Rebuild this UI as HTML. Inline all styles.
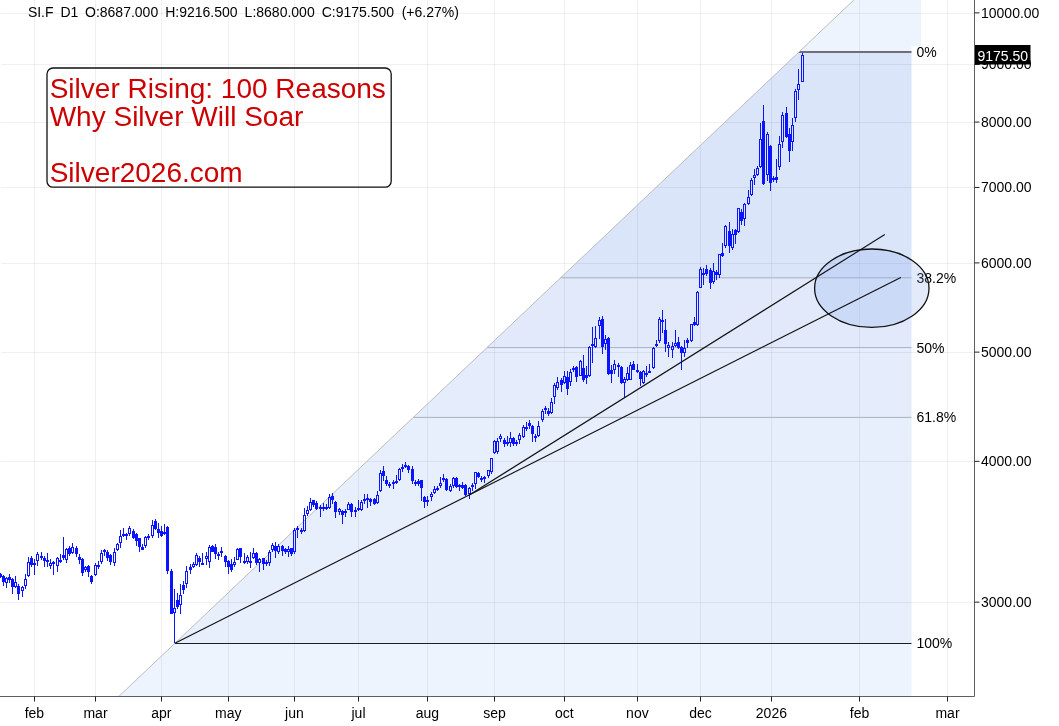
<!DOCTYPE html>
<html><head><meta charset="utf-8"><style>
html,body{margin:0;padding:0;background:#fff;overflow:hidden;}
svg{display:block;will-change:transform;}
.t{font-family:"Liberation Sans",sans-serif;font-size:14px;fill:#000;}
.r{font-family:"Liberation Sans",sans-serif;font-size:28px;fill:#cc0000;}
</style></head><body>
<svg width="1059" height="726" viewBox="0 0 1059 726">
<rect width="1059" height="726" fill="#fff"/>
<polygon points="853.84,0.00 921.00,0.00 921.00,46.00 911.50,46.00 911.50,51.90 799.06,51.90" fill="#eef4fe"/>
<polygon points="799.06,51.90 911.50,51.90 911.50,277.81 560.63,277.81" fill="#dae5f9"/>
<polygon points="560.63,277.81 911.50,277.81 911.50,347.60 486.98,347.60" fill="#e1e9fa"/>
<polygon points="486.98,347.60 911.50,347.60 911.50,417.39 413.33,417.39" fill="#e5ecfb"/>
<polygon points="413.33,417.39 911.50,417.39 911.50,643.30 174.90,643.30" fill="#e8effc"/>
<polygon points="174.90,643.30 911.50,643.30 911.50,696.00 119.28,696.00" fill="#eef4fe"/>
<path d="M34.5 0V696.5M95.5 0V696.5M161.5 0V696.5M228.5 0V696.5M294.5 0V696.5M358.5 0V696.5M427.5 0V696.5M494.5 0V696.5M564.5 0V696.5M637.5 0V696.5M700.5 0V696.5M771.5 0V696.5M859.5 0V696.5M947.5 0V696.5M1 13.5H974.5M1 64.5H974.5M1 122.5H974.5M1 187.5H974.5M1 263.5H974.5M1 352.5H974.5M1 461.5H974.5M1 602.5H974.5" stroke="#000" stroke-opacity="0.06" stroke-width="1" fill="none"/>
<line x1="560.63" y1="277.81" x2="911.5" y2="277.81" stroke="#a7b0bf" stroke-width="1"/>
<line x1="486.98" y1="347.60" x2="911.5" y2="347.60" stroke="#a7b0bf" stroke-width="1"/>
<line x1="413.33" y1="417.39" x2="911.5" y2="417.39" stroke="#a7b0bf" stroke-width="1"/>
<line x1="798.96" y1="52" x2="911.5" y2="52" stroke="#6d7077" stroke-width="2"/>
<line x1="174.9" y1="643.5" x2="911.5" y2="643.5" stroke="#1e1e24" stroke-width="1.2"/>
<line x1="118.75" y1="696.5" x2="853.84" y2="0" stroke="#bcbcbc" stroke-width="1"/>
<g shape-rendering="crispEdges"><path d="M0.5 573V574M0.5 577V578M3.5 575V576M3.5 582V586M6.5 577V578M6.5 583V588M9.5 574V577M9.5 580V583M12.5 578V579M12.5 587V594M15.5 576V582M15.5 587V588M18.5 584V586M18.5 594V600M22.5 586V587M22.5 591V597M25.5 574V579M25.5 586V589M28.5 557V562M28.5 576V577M31.5 556V558M31.5 565V567M34.5 559V563M34.5 565V575M37.5 552V554M37.5 561V566M41.5 552V556M41.5 558V560M44.5 556V558M44.5 561V567M47.5 553V560M47.5 562V567M50.5 559V563M50.5 566V569M53.5 561V562M53.5 564V575M57.5 557V558M57.5 566V572M60.5 554V560M60.5 562V563M63.5 537V555M63.5 558V560M66.5 548V549M66.5 560V563M69.5 546V548M69.5 554V556M72.5 543V547M72.5 553V554M76.5 546V548M76.5 554V557M79.5 554V557M79.5 560V564M82.5 558V559M82.5 573V576M85.5 566V567M85.5 570V572M88.5 565V566M88.5 572V577M91.5 575V576M91.5 582V584M95.5 563V565M95.5 575V576M98.5 561V565M98.5 567V569M101.5 550V553M101.5 562V564M104.5 549V550M104.5 552V556M107.5 550V552M107.5 558V561M110.5 554V555M110.5 562V565M114.5 548V552M114.5 563V566M117.5 543V544M117.5 550V551M120.5 530V536M120.5 543V548M123.5 528V534M123.5 536V537M126.5 533V534M126.5 536V540M129.5 526V528M129.5 534V536M133.5 529V531M133.5 538V539M136.5 533V534M136.5 541V546M139.5 547V552M142.5 544V547M145.5 536V537M145.5 546V548M148.5 534V536M148.5 538V540M152.5 520V525M152.5 536V538M155.5 519V521M155.5 529V530M158.5 523V529M158.5 533V538M161.5 526V531M161.5 536V537M164.5 524V532M164.5 534V535M167.5 526V527M167.5 571V574M171.5 569V571M174.5 589V608M174.5 613V643M177.5 593V600M177.5 607V609M180.5 584V595M180.5 605V614M183.5 581V585M183.5 590V594M186.5 566V571M186.5 584V588M190.5 564V567M190.5 570V574M193.5 562V564M193.5 567V568M196.5 553V555M196.5 565V566M199.5 556V558M199.5 562V567M202.5 553V563M206.5 552V556M206.5 559V565M209.5 545V547M209.5 562V568M212.5 545V546M215.5 544V547M215.5 554V559M218.5 552V554M218.5 556V560M221.5 547V551M221.5 553V557M225.5 555V556M225.5 562V567M228.5 560V561M228.5 567V574M231.5 559V564M231.5 570V572M234.5 557V562M234.5 565V567M237.5 548V549M240.5 557V563M244.5 553V561M244.5 563V564M247.5 555V557M247.5 562V564M250.5 552V561M250.5 563V568M253.5 548V553M253.5 558V559M256.5 552V553M256.5 563V565M259.5 558V559M259.5 563V572M263.5 564V570M266.5 560V562M266.5 564V566M269.5 550V552M269.5 563V566M272.5 543V545M272.5 550V552M275.5 542V546M275.5 551V558M278.5 544V546M278.5 552V554M282.5 545V546M282.5 551V556M285.5 548V549M285.5 552V554M288.5 546V549M288.5 552V557M291.5 554V556M294.5 528V530M294.5 552V554M297.5 526V528M297.5 530V538M301.5 528V530M301.5 532V534M304.5 508V515M304.5 531V532M307.5 506V510M307.5 514V516M310.5 498V502M310.5 510V511M313.5 505V507M316.5 501V503M316.5 509V510M320.5 505V507M320.5 509V517M323.5 503V507M323.5 509V511M326.5 504V507M326.5 509V510M329.5 494V497M329.5 508V509M332.5 493V496M332.5 500V504M335.5 501V502M335.5 512V518M339.5 508V509M339.5 512V515M342.5 510V511M342.5 515V524M345.5 509V511M345.5 513V517M348.5 502V504M351.5 503V504M351.5 512V517M355.5 507V510M355.5 512V517M358.5 500V508M358.5 510V511M361.5 500V502M361.5 510V511M364.5 494V499M364.5 501V504M367.5 494V498M367.5 500V508M370.5 498V499M370.5 502V506M374.5 498V499M374.5 504V505M377.5 491V495M377.5 503V504M380.5 470V473M380.5 491V492M383.5 466V471M383.5 476V481M386.5 476V480M386.5 484V486M389.5 482V484M389.5 486V488M393.5 480V482M393.5 484V489M396.5 475V481M396.5 483V484M399.5 468V469M399.5 480V481M402.5 464V467M402.5 469V472M405.5 462V465M405.5 467V468M408.5 465V466M408.5 470V473M412.5 466V469M412.5 481V484M415.5 480V482M415.5 484V486M418.5 479V481M418.5 484V486M421.5 488V501M424.5 496V497M424.5 502V508M427.5 496V500M427.5 502V506M431.5 492V494M431.5 497V501M434.5 486V489M434.5 493V494M437.5 486V488M437.5 490V491M440.5 477V483M440.5 486V488M443.5 474V478M443.5 480V482M446.5 478V479M446.5 490V491M450.5 484V486M450.5 491V492M453.5 477V478M453.5 486V488M456.5 477V478M456.5 487V488M459.5 484V485M459.5 487V491M462.5 482V485M462.5 488V489M465.5 484V485M465.5 495V496M469.5 487V488M469.5 494V499M472.5 483V485M472.5 487V491M475.5 484V489M478.5 472V473M478.5 477V478M481.5 476V478M481.5 480V482M484.5 476V477M484.5 479V483M488.5 476V478M491.5 472V474M494.5 440V441M494.5 453V454M497.5 438V441M497.5 452V454M500.5 434V436M500.5 439V442M504.5 438V440M504.5 444V447M507.5 436V442M507.5 444V446M510.5 432V438M510.5 443V447M513.5 437V438M513.5 444V446M516.5 440V442M516.5 444V446M519.5 433V435M519.5 440V444M523.5 425V427M523.5 437V438M526.5 422V427M526.5 429V431M529.5 420V423M529.5 426V429M532.5 425V426M532.5 434V442M535.5 434V436M535.5 438V442M538.5 421V426M538.5 436V437M542.5 409V411M542.5 420V422M545.5 406V408M545.5 410V414M548.5 408V411M548.5 414V416M551.5 398V402M551.5 413V414M554.5 383V385M554.5 397V404M557.5 377V382M557.5 388V390M561.5 378V380M561.5 385V392M564.5 371V376M564.5 383V384M567.5 371V377M567.5 389V395M570.5 369V372M570.5 382V386M573.5 366V368M573.5 370V372M576.5 366V367M576.5 377V382M580.5 360V361M583.5 355V368M583.5 380V382M586.5 366V375M586.5 378V384M589.5 346V347M589.5 376V377M592.5 327V344M592.5 346V363M595.5 326V338M595.5 347V348M599.5 317V320M599.5 326V339M602.5 316V319M602.5 347V354M605.5 335V339M605.5 344V350M608.5 337V338M608.5 374V375M611.5 365V370M611.5 374V383M614.5 360V364M614.5 370V374M618.5 363V365M618.5 367V377M621.5 366V367M621.5 383V384M624.5 377V379M624.5 383V398M627.5 367V373M627.5 380V381M630.5 362V365M633.5 361V364M637.5 364V370M637.5 372V373M640.5 371V372M640.5 379V386M643.5 370V371M643.5 383V384M646.5 366V373M646.5 375V377M649.5 364V371M653.5 347V348M653.5 368V369M656.5 340V344M656.5 346V347M659.5 317V319M659.5 341V343M662.5 310V320M662.5 322V333M665.5 319V330M665.5 344V352M668.5 342V345M668.5 348V357M672.5 342V346M672.5 350V358M675.5 330V343M675.5 346V347M678.5 337V342M678.5 348V349M681.5 346V347M681.5 353V370M684.5 340V348M684.5 353V357M687.5 338V340M687.5 343V348M691.5 341V342M694.5 317V322M694.5 325V326M697.5 291V292M697.5 325V326M700.5 267V269M703.5 268V273M703.5 275V285M706.5 265V269M706.5 274V276M710.5 268V270M710.5 283V289M713.5 263V271M713.5 282V284M716.5 270V272M716.5 275V280M719.5 275V278M722.5 243V253M722.5 256V257M725.5 225V226M725.5 246V248M729.5 222V231M729.5 246V253M732.5 229V234M732.5 248V250M735.5 229V230M735.5 235V244M738.5 232V233M741.5 209V212M741.5 221V225M744.5 203V204M744.5 219V226M748.5 190V197M748.5 204V205M751.5 178V180M751.5 195V196M754.5 169V175M754.5 178V185M757.5 166V168M757.5 175V176M760.5 123V139M760.5 167V168M763.5 105V121M763.5 184V185M767.5 132V134M767.5 175V181M770.5 145V146M770.5 183V191M773.5 176V178M773.5 180V182M776.5 159V177M776.5 180V183M779.5 136V144M779.5 167V170M782.5 112V115M782.5 142V148M786.5 107V113M786.5 137V138M789.5 128V134M789.5 151V162M792.5 118V125M792.5 142V151M795.5 89V91M795.5 118V122M798.5 69V84M798.5 90V100M802.5 53V55" stroke="#0a14ff" stroke-width="1" fill="none"/>
<path d="M-1 574h3v3h-3ZM2 576h3v6h-3ZM8 577h3v3h-3ZM11 579h3v8h-3ZM17 586h3v8h-3ZM30 558h3v7h-3ZM43 558h3v3h-3ZM46 560h3v2h-3ZM52 562h3v2h-3ZM62 555h3v3h-3ZM68 548h3v6h-3ZM75 548h3v6h-3ZM78 557h3v3h-3ZM81 559h3v14h-3ZM87 566h3v6h-3ZM90 576h3v6h-3ZM106 552h3v6h-3ZM109 555h3v7h-3ZM122 534h3v2h-3ZM125 534h3v2h-3ZM132 531h3v7h-3ZM135 534h3v7h-3ZM138 538h3v9h-3ZM141 547h3v3h-3ZM147 536h3v2h-3ZM154 521h3v8h-3ZM157 529h3v4h-3ZM160 531h3v5h-3ZM166 527h3v44h-3ZM170 571h3v43h-3ZM176 600h3v7h-3ZM182 585h3v5h-3ZM189 567h3v3h-3ZM198 558h3v4h-3ZM211 546h3v6h-3ZM214 547h3v7h-3ZM217 554h3v2h-3ZM224 556h3v6h-3ZM227 561h3v6h-3ZM230 564h3v6h-3ZM239 548h3v9h-3ZM255 553h3v10h-3ZM262 558h3v6h-3ZM265 562h3v2h-3ZM274 546h3v5h-3ZM281 546h3v5h-3ZM284 549h3v3h-3ZM290 548h3v6h-3ZM296 528h3v2h-3ZM300 530h3v2h-3ZM312 500h3v5h-3ZM315 503h3v6h-3ZM319 507h3v2h-3ZM322 507h3v2h-3ZM325 507h3v2h-3ZM331 496h3v4h-3ZM334 502h3v10h-3ZM341 511h3v4h-3ZM350 504h3v8h-3ZM366 498h3v2h-3ZM369 499h3v3h-3ZM373 499h3v5h-3ZM382 471h3v5h-3ZM385 480h3v4h-3ZM404 465h3v2h-3ZM407 466h3v4h-3ZM411 469h3v12h-3ZM414 482h3v2h-3ZM417 481h3v3h-3ZM420 480h3v8h-3ZM423 497h3v5h-3ZM442 478h3v2h-3ZM445 479h3v11h-3ZM455 478h3v9h-3ZM458 485h3v2h-3ZM461 485h3v3h-3ZM464 485h3v10h-3ZM477 473h3v4h-3ZM503 440h3v4h-3ZM512 438h3v6h-3ZM528 423h3v3h-3ZM531 426h3v8h-3ZM547 411h3v3h-3ZM560 380h3v5h-3ZM566 377h3v12h-3ZM575 367h3v10h-3ZM582 368h3v12h-3ZM585 375h3v3h-3ZM591 344h3v2h-3ZM601 319h3v28h-3ZM607 338h3v36h-3ZM610 370h3v4h-3ZM617 365h3v2h-3ZM620 367h3v16h-3ZM632 364h3v6h-3ZM636 370h3v2h-3ZM639 372h3v7h-3ZM661 320h3v2h-3ZM664 330h3v14h-3ZM677 342h3v6h-3ZM680 347h3v6h-3ZM686 340h3v3h-3ZM693 322h3v3h-3ZM705 269h3v5h-3ZM709 270h3v13h-3ZM715 272h3v3h-3ZM721 253h3v3h-3ZM728 231h3v15h-3ZM734 230h3v5h-3ZM740 212h3v9h-3ZM762 121h3v63h-3ZM769 146h3v37h-3ZM775 177h3v3h-3ZM785 113h3v24h-3ZM788 134h3v17h-3Z" fill="#0a14ff"/>
<path d="M5.5 578.5h2v4h-2ZM14.5 582.5h2v4h-2ZM21.5 587.5h2v3h-2ZM24.5 579.5h2v6h-2ZM27.5 562.5h2v13h-2ZM33.5 563.5h2v1h-2ZM36.5 554.5h2v6h-2ZM40.5 556.5h2v1h-2ZM49.5 563.5h2v2h-2ZM56.5 558.5h2v7h-2ZM59.5 560.5h2v1h-2ZM65.5 549.5h2v10h-2ZM71.5 547.5h2v5h-2ZM84.5 567.5h2v2h-2ZM94.5 565.5h2v9h-2ZM97.5 565.5h2v1h-2ZM100.5 553.5h2v8h-2ZM103.5 550.5h2v1h-2ZM113.5 552.5h2v10h-2ZM116.5 544.5h2v5h-2ZM119.5 536.5h2v6h-2ZM128.5 528.5h2v5h-2ZM144.5 537.5h2v8h-2ZM151.5 525.5h2v10h-2ZM163.5 532.5h2v1h-2ZM173.5 608.5h2v4h-2ZM179.5 595.5h2v9h-2ZM185.5 571.5h2v12h-2ZM192.5 564.5h2v2h-2ZM195.5 555.5h2v9h-2ZM201.5 563.5h2v1h-2ZM205.5 556.5h2v2h-2ZM208.5 547.5h2v14h-2ZM220.5 551.5h2v1h-2ZM233.5 562.5h2v2h-2ZM236.5 549.5h2v10h-2ZM243.5 561.5h2v1h-2ZM246.5 557.5h2v4h-2ZM249.5 561.5h2v1h-2ZM252.5 553.5h2v4h-2ZM258.5 559.5h2v3h-2ZM268.5 552.5h2v10h-2ZM271.5 545.5h2v4h-2ZM277.5 546.5h2v5h-2ZM287.5 549.5h2v2h-2ZM293.5 530.5h2v21h-2ZM303.5 515.5h2v15h-2ZM306.5 510.5h2v3h-2ZM309.5 502.5h2v7h-2ZM328.5 497.5h2v10h-2ZM338.5 509.5h2v2h-2ZM344.5 511.5h2v1h-2ZM347.5 504.5h2v5h-2ZM354.5 510.5h2v1h-2ZM357.5 508.5h2v1h-2ZM360.5 502.5h2v7h-2ZM363.5 499.5h2v1h-2ZM376.5 495.5h2v7h-2ZM379.5 473.5h2v17h-2ZM388.5 484.5h2v1h-2ZM392.5 482.5h2v1h-2ZM395.5 481.5h2v1h-2ZM398.5 469.5h2v10h-2ZM401.5 467.5h2v1h-2ZM426.5 500.5h2v1h-2ZM430.5 494.5h2v2h-2ZM433.5 489.5h2v3h-2ZM436.5 488.5h2v1h-2ZM439.5 483.5h2v2h-2ZM449.5 486.5h2v4h-2ZM452.5 478.5h2v7h-2ZM468.5 488.5h2v5h-2ZM471.5 485.5h2v1h-2ZM474.5 472.5h2v11h-2ZM480.5 478.5h2v1h-2ZM483.5 477.5h2v1h-2ZM487.5 470.5h2v5h-2ZM490.5 458.5h2v13h-2ZM493.5 441.5h2v11h-2ZM496.5 441.5h2v10h-2ZM499.5 436.5h2v2h-2ZM506.5 442.5h2v1h-2ZM509.5 438.5h2v4h-2ZM515.5 442.5h2v1h-2ZM518.5 435.5h2v4h-2ZM522.5 427.5h2v9h-2ZM525.5 427.5h2v1h-2ZM534.5 436.5h2v1h-2ZM537.5 426.5h2v9h-2ZM541.5 411.5h2v8h-2ZM544.5 408.5h2v1h-2ZM550.5 402.5h2v10h-2ZM553.5 385.5h2v11h-2ZM556.5 382.5h2v5h-2ZM563.5 376.5h2v6h-2ZM569.5 372.5h2v9h-2ZM572.5 368.5h2v1h-2ZM579.5 361.5h2v14h-2ZM588.5 347.5h2v28h-2ZM594.5 338.5h2v8h-2ZM598.5 320.5h2v5h-2ZM604.5 339.5h2v4h-2ZM613.5 364.5h2v5h-2ZM623.5 379.5h2v3h-2ZM626.5 373.5h2v6h-2ZM629.5 365.5h2v14h-2ZM642.5 371.5h2v11h-2ZM645.5 373.5h2v1h-2ZM648.5 371.5h2v1h-2ZM652.5 348.5h2v19h-2ZM655.5 344.5h2v1h-2ZM658.5 319.5h2v21h-2ZM667.5 345.5h2v2h-2ZM671.5 346.5h2v3h-2ZM674.5 343.5h2v2h-2ZM683.5 348.5h2v4h-2ZM690.5 324.5h2v16h-2ZM696.5 292.5h2v32h-2ZM699.5 269.5h2v18h-2ZM702.5 273.5h2v1h-2ZM712.5 271.5h2v10h-2ZM718.5 254.5h2v20h-2ZM724.5 226.5h2v19h-2ZM731.5 234.5h2v13h-2ZM737.5 208.5h2v23h-2ZM743.5 204.5h2v14h-2ZM747.5 197.5h2v6h-2ZM750.5 180.5h2v14h-2ZM753.5 175.5h2v2h-2ZM756.5 168.5h2v6h-2ZM759.5 139.5h2v27h-2ZM766.5 134.5h2v40h-2ZM772.5 178.5h2v1h-2ZM778.5 144.5h2v22h-2ZM781.5 115.5h2v26h-2ZM791.5 125.5h2v16h-2ZM794.5 91.5h2v26h-2ZM797.5 84.5h2v5h-2ZM801.5 55.5h2v26h-2Z" stroke="#0a14ff" stroke-width="1" fill="none"/></g>
<text x="916.5" y="56.9" class="t">0%</text>
<text x="916.5" y="282.8" class="t">38.2%</text>
<text x="916.5" y="352.6" class="t">50%</text>
<text x="916.5" y="422.4" class="t">61.8%</text>
<text x="916.5" y="648.3" class="t">100%</text>
<ellipse cx="871.8" cy="288.2" rx="57.2" ry="39.2" fill="#7fa3ec" fill-opacity="0.22" stroke="#111" stroke-width="1.3"/>
<line x1="174.9" y1="643.3" x2="900.8" y2="277.4" stroke="#111" stroke-width="1.15"/>
<line x1="468.5" y1="495.5" x2="884.8" y2="234.5" stroke="#111" stroke-width="1.15"/>
<rect x="47" y="68" width="344.2" height="119.2" rx="6" ry="6" fill="none" stroke="#111" stroke-width="1.3"/>
<text class="r" x="49.7" y="98">Silver Rising: 100 Reasons</text>
<text class="r" x="49.7" y="126">Why Silver Will Soar</text>
<text class="r" x="49.7" y="182">Silver2026.com</text>
<path d="M974.5 0V696.5H0" stroke="#5f5f64" stroke-width="1" fill="none" stroke-linecap="square"/>
<path d="M974.5 12.87H979.5M974.5 64.44H979.5M974.5 122.09H979.5M974.5 187.44H979.5M974.5 262.89H979.5M974.5 352.13H979.5M974.5 461.35H979.5M974.5 602.15H979.5M34.5 696.5V701.5M95.5 696.5V701.5M161.5 696.5V701.5M228.5 696.5V701.5M294.5 696.5V701.5M358.5 696.5V701.5M427.5 696.5V701.5M494.5 696.5V701.5M564.5 696.5V701.5M637.5 696.5V701.5M700.5 696.5V701.5M771.5 696.5V701.5M859.5 696.5V701.5M947.5 696.5V701.5" stroke="#222" stroke-width="1" fill="none"/>
<text x="981" y="17.9" class="t">10000.00</text>
<text x="981" y="69.4" class="t">9000.00</text>
<text x="981" y="127.1" class="t">8000.00</text>
<text x="981" y="192.4" class="t">7000.00</text>
<text x="981" y="267.9" class="t">6000.00</text>
<text x="981" y="357.1" class="t">5000.00</text>
<text x="981" y="466.3" class="t">4000.00</text>
<text x="981" y="607.2" class="t">3000.00</text>
<text x="34.4" y="717.5" class="t" text-anchor="middle">feb</text>
<text x="95.5" y="717.5" class="t" text-anchor="middle">mar</text>
<text x="161.3" y="717.5" class="t" text-anchor="middle">apr</text>
<text x="228.3" y="717.5" class="t" text-anchor="middle">may</text>
<text x="294.4" y="717.5" class="t" text-anchor="middle">jun</text>
<text x="358.5" y="717.5" class="t" text-anchor="middle">jul</text>
<text x="427.4" y="717.5" class="t" text-anchor="middle">aug</text>
<text x="494.5" y="717.5" class="t" text-anchor="middle">sep</text>
<text x="564.4" y="717.5" class="t" text-anchor="middle">oct</text>
<text x="637.4" y="717.5" class="t" text-anchor="middle">nov</text>
<text x="700.5" y="717.5" class="t" text-anchor="middle">dec</text>
<text x="771.4" y="717.5" class="t" text-anchor="middle">2026</text>
<text x="859.6" y="717.5" class="t" text-anchor="middle">feb</text>
<text x="947.5" y="717.5" class="t" text-anchor="middle">mar</text>
<rect x="975" y="45" width="55.5" height="19.5" fill="#000"/>
<text x="977.5" y="60.5" class="t" style="fill:#fff">9175.50</text>
<text x="27.9" y="17" class="t">SI.F</text>
<text x="60.5" y="17" class="t">D1</text>
<text x="85.0" y="17" class="t">O:8687.000</text>
<text x="165.2" y="17" class="t">H:9216.500</text>
<text x="244.6" y="17" class="t">L:8680.000</text>
<text x="321.7" y="17" class="t">C:9175.500</text>
<text x="401.7" y="17" class="t">(+6.27%)</text>
</svg></body></html>
